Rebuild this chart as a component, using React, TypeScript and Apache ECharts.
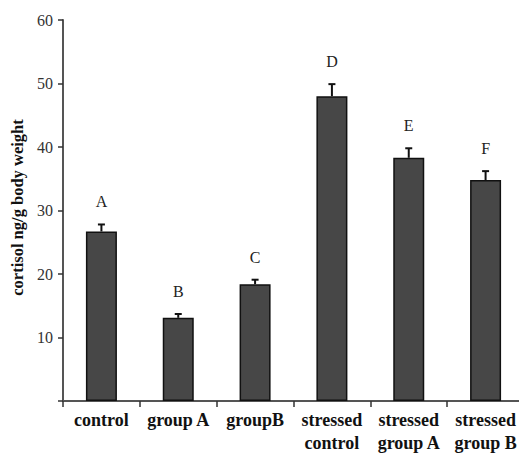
import React, { useEffect, useRef } from "react";
import * as echarts from "echarts";

const categories = ["control", "group A", "groupB", "stressed\ncontrol", "stressed\ngroup A", "stressed\ngroup B"];
const means = [26.7, 13.1, 18.4, 48.0, 38.3, 34.8];
const errors = [1.1, 0.6, 0.7, 1.9, 1.5, 1.4];
const letters = ["A", "B", "C", "D", "E", "F"];
const yTicks = [0, 10, 20, 30, 40, 50, 60];

const FONT = "'Liberation Serif', 'Times New Roman', serif";

export default function App() {
  const ref = useRef<HTMLDivElement>(null);
  useEffect(() => {
    if (!ref.current) return;
    const chart = echarts.init(ref.current, undefined, { renderer: "svg" });
    const errData = means.map((m, i) => [i, m, m + errors[i], letters[i]]);
    chart.setOption({
      animation: false,
      grid: { left: 63, top: 20, bottom: 54, right: -5, containLabel: false, outerBoundsMode: "none" },
      xAxis: {
        type: "category",
        data: categories,
        axisLine: { lineStyle: { color: "#555", width: 2 } },
        axisTick: { show: true, length: 6, lineStyle: { color: "#333", width: 1.5 } },
        axisLabel: {
          fontFamily: FONT,
          fontSize: 18,
          fontWeight: "bold",
          color: "#111",
          margin: 7,
          lineHeight: 23,
          interval: 0,
        },
      },
      yAxis: {
        type: "value",
        min: yTicks[0],
        max: yTicks[yTicks.length - 1],
        interval: 10,
        name: "cortisol ng/g body weight",
        nameLocation: "middle",
        nameGap: 36,
        nameTextStyle: {
          fontFamily: FONT,
          fontSize: 16.5,
          fontWeight: "bold",
          color: "#111",
          padding: [0, 0, 0, 6],
        },
        splitLine: { show: false },
        axisLine: { show: true, lineStyle: { color: "#555", width: 2 } },
        axisTick: { show: true, length: 5, lineStyle: { color: "#333", width: 1.5 } },
        axisLabel: {
          fontFamily: FONT,
          fontSize: 16,
          color: "#333",
          margin: 10,
          formatter: (v: number) => (v === 0 ? "" : String(v)),
        },
      },
      series: [
        {
          type: "bar",
          data: means,
          barWidth: 31,
          itemStyle: { color: "#474747", borderColor: "#111", borderWidth: 1.5 },
        },
        {
          type: "custom",
          data: errData,
          z: 5,
          renderItem: (params: any, api: any) => {
            const x = api.coord([api.value(0), api.value(1)]);
            const top = api.coord([api.value(0), api.value(2)]);
            const letter = letters[params.dataIndex];
            return {
              type: "group",
              children: [
                {
                  type: "line",
                  shape: { x1: x[0], y1: x[1], x2: top[0], y2: top[1] },
                  style: { stroke: "#111", lineWidth: 2 },
                },
                {
                  type: "line",
                  shape: { x1: top[0] - 3.5, y1: top[1], x2: top[0] + 3.5, y2: top[1] },
                  style: { stroke: "#111", lineWidth: 2 },
                },
                {
                  type: "text",
                  x: top[0],
                  y: top[1] - 22.5,
                  style: {
                    text: letter,
                    fontFamily: FONT,
                    fontSize: 16,
                    fill: "#222",
                    align: "center",
                    verticalAlign: "middle",
                  },
                },
              ],
            };
          },
        },
      ],
    });
    return () => chart.dispose();
  }, []);
  return <div ref={ref} style={{ width: 519, height: 455, position: "absolute", left: 0, top: 0 }} />;
}
